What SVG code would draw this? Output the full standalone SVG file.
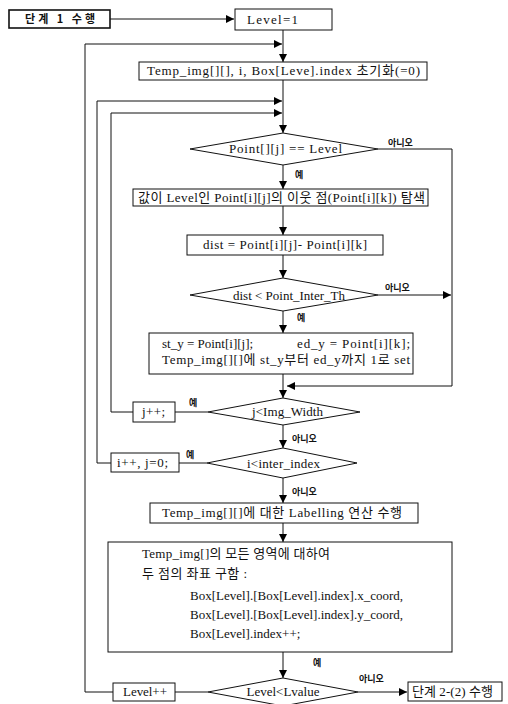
<svg xmlns="http://www.w3.org/2000/svg" width="508" height="704" viewBox="0 0 508 704">
<defs>
<marker id="ah" viewBox="0 0 10 10" refX="10" refY="5" markerWidth="8" markerHeight="8" markerUnits="userSpaceOnUse" orient="auto">
<path d="M0,0 L10,5 L0,10 z" fill="#000"/>
</marker>
<style>
.b{fill:#fff;stroke:#111;stroke-width:1}
.bb{fill:#fff;stroke:#111;stroke-width:1.6}
.c{fill:none;stroke:#111;stroke-width:1}
.a{fill:none;stroke:#111;stroke-width:1;marker-end:url(#ah)}
text{font-family:"Liberation Serif","Noto Sans CJK KR",serif;font-size:13px;fill:#111}
.l{font-family:"Noto Sans CJK KR","Liberation Sans",sans-serif;font-size:9px;font-weight:bold}
</style>
</defs>
<rect width="508" height="704" fill="#fff"/>
<g id="connectors">
<path class="a" d="M110,19 H234"/>
<path class="a" d="M283,30 V62"/>
<path class="a" d="M113,692 H85 V44 H282"/>
<path class="a" d="M283,80 V133"/>
<path class="a" d="M111,463 H97 V101 H282"/>
<path class="a" d="M133,412 H111 V113 H282"/>
<path class="a" d="M283,165 V189"/>
<path class="a" d="M378,149 H452 V386 H287"/>
<path class="a" d="M283,206 V235"/>
<path class="a" d="M283,255 V278"/>
<path class="a" d="M378,295 H451"/>
<path class="a" d="M283,311 V333"/>
<path class="a" d="M283,374 V398"/>
<path class="c" d="M208,412 H175"/>
<path class="a" d="M283,425 V448"/>
<path class="c" d="M207,463 H179"/>
<path class="a" d="M283,478 V503"/>
<path class="a" d="M283,523 V542"/>
<path class="a" d="M283,652 V678"/>
<path class="c" d="M208,692 H175"/>
<path class="a" d="M358,692 H407"/>
<text class="l" x="388" y="146">아니오</text>
<text class="l" x="295" y="178">예</text>
<text class="l" x="385" y="291">아니오</text>
<text class="l" x="297" y="321">예</text>
<text class="l" x="189" y="406">예</text>
<text class="l" x="292" y="442">아니오</text>
<text class="l" x="186" y="458">예</text>
<text class="l" x="292" y="495">아니오</text>
<text class="l" x="313" y="666">예</text>
<text class="l" x="359" y="682">아니오</text>
</g>
<g id="step1">
<rect class="bb" x="9" y="10" width="101" height="18"/>
<text class="l" x="25" y="23" textLength="70" style="font-size:11px">단계 1 수행</text>
</g>
<g id="level1">
<rect class="b" x="235" y="9" width="97" height="21"/>
<text x="247" y="24" textLength="51">Level=1</text>
</g>
<g id="init">
<rect class="b" x="139" y="62" width="288" height="18"/>
<text x="147" y="75" textLength="273">Temp_img[][], i, Box[Leve].index 초기화(=0)</text>
</g>
<g id="cond1">
<polygon class="b" points="190,149 283,133 378,149 283,165"/>
<text x="229" y="153" textLength="113">Point[][j] == Level</text>
</g>
<g id="search">
<rect class="b" x="133" y="189" width="295" height="17"/>
<text x="138" y="202" textLength="287">값이 Level인 Point[i][j]의 이웃 점(Point[i][k]) 탐색</text>
</g>
<g id="dist">
<rect class="b" x="187" y="235" width="196" height="20"/>
<text x="203" y="249" textLength="164">dist = Point[i][j]- Point[i][k]</text>
</g>
<g id="cond2">
<polygon class="b" points="190,295 283,278 378,295 283,311"/>
<text x="233" y="300" textLength="112">dist &lt; Point_Inter_Th</text>
</g>
<g id="set">
<rect class="b" x="149" y="333" width="264" height="41"/>
<text x="162" y="348">st_y = Point[i][j];</text>
<text x="297" y="348" textLength="113">ed_y = Point[i][k];</text>
<text x="162" y="364" textLength="248">Temp_img[][]에 st_y부터 ed_y까지 1로 set</text>
</g>
<g id="jinc">
<rect class="b" x="133" y="402" width="42" height="20"/>
<text x="142" y="416" textLength="23">j++;</text>
</g>
<g id="cond3">
<polygon class="b" points="208,412 283,398 360,412 283,425"/>
<text x="252" y="416" textLength="71">j&lt;Img_Width</text>
</g>
<g id="iinc">
<rect class="b" x="111" y="453" width="68" height="19"/>
<text x="117" y="467" textLength="51">i++, j=0;</text>
</g>
<g id="cond4">
<polygon class="b" points="207,463 283,448 357,463 283,478"/>
<text x="247" y="468" textLength="73">i&lt;inter_index</text>
</g>
<g id="label">
<rect class="b" x="150" y="503" width="268" height="20"/>
<text x="162" y="517" textLength="240">Temp_img[][]에 대한 Labelling 연산 수행</text>
</g>
<g id="coords">
<rect class="b" x="108" y="542" width="344" height="110"/>
<text x="142" y="558" textLength="188">Temp_img[]의 모든 영역에 대하여</text>
<text x="142" y="578" textLength="105">두 점의 좌표 구함 :</text>
<text x="190" y="600">Box[Level].[Box[Level].index].x_coord,</text>
<text x="190" y="619">Box[Level].[Box[Level].index].y_coord,</text>
<text x="190" y="638">Box[Level].index++;</text>
</g>
<g id="levelinc">
<rect class="b" x="113" y="683" width="62" height="18"/>
<text x="123" y="696" textLength="44">Level++</text>
</g>
<g id="cond5">
<polygon class="b" points="208,692 283,678 358,692 283,706"/>
<text x="283" y="696" text-anchor="middle">Level&lt;Lvalue</text>
</g>
<g id="step2">
<rect class="b" x="408" y="682" width="94" height="19"/>
<text x="412" y="696" textLength="81">단계 2-(2) 수행</text>
</g>
</svg>
